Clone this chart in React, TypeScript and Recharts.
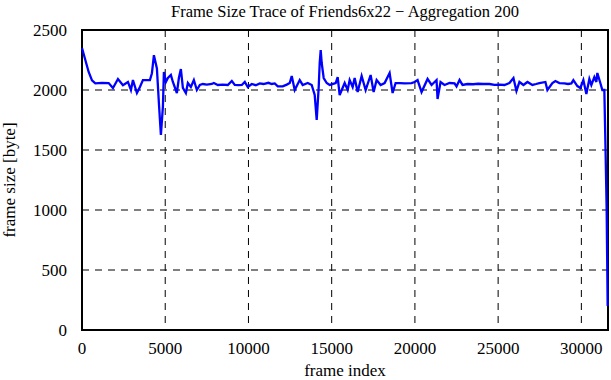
import { LineChart, Line, XAxis, YAxis, CartesianGrid, ReferenceArea, Label } from 'recharts';

document.body.style.margin = '0';

// frame index (aggregated by 200 frames)
const frames = [
  0, 200, 400, 600, 800, 1200, 1600, 1860, 2160, 2460, 2760, 2940, 3060, 3300, 3480, 3660, 4080, 4200,
  4320, 4500, 4620, 4740, 4860, 4920, 5040, 5160, 5340, 5460, 5700, 5820, 5940, 6060, 6240, 6360,
  6540, 6720, 6900, 7080, 7260, 7500, 7800, 7920, 8160, 8460, 8760, 9000, 9180, 9400, 9600, 9780,
  9960, 10200, 10440, 10680, 10900, 11200, 11400, 11580, 11760, 12060, 12300, 12480, 12600, 12780,
  13080, 13260, 13560, 13800, 13980, 14100, 14220, 14280, 14340, 14400, 14520, 14700, 14880, 15240,
  15360, 15480, 15780, 15960, 16080, 16260, 16380, 16560, 16800, 17040, 17340, 17520, 17700, 17940,
  18180, 18480, 18660, 18840, 19080, 19400, 19800, 19980, 20160, 20400, 20760, 21000, 21300, 21360,
  21540, 21780, 22080, 22380, 22500, 22680, 22860, 23160, 23500, 23800, 24100, 24480, 24780, 25080,
  25380, 25680, 25920, 26100, 26280, 26520, 26760, 27060, 27280, 27480, 27840, 27960, 28260, 28440,
  28680, 28980, 29200, 29400, 29520, 29760, 29940, 30120, 30300, 30480, 30600, 30780, 30900, 30960,
  31140, 31260, 31380, 31460, 31520, 31580,
];

const frameSize = [
  2350, 2250, 2150, 2080, 2055, 2060, 2058, 2017, 2092, 2040, 2067, 2000, 2083, 1975, 2025, 2083, 2083, 2140,
  2290, 2180, 1890, 1625, 1860, 2150, 2067, 2100, 2125, 2067, 1975, 2100, 2175, 2017, 1975, 2058,
  2025, 2083, 2000, 2042, 2050, 2045, 2050, 2058, 2042, 2045, 2042, 2075, 2042, 2040, 2042, 2067,
  2025, 2050, 2040, 2055, 2050, 2060, 2050, 2055, 2030, 2030, 2045, 2058, 2117, 2000,
  2083, 2042, 2058, 2042, 1958, 1750, 2025, 2225, 2333, 2225, 2100, 2058, 2042, 2058,
  2108, 1958, 2058, 2000, 2083, 2025, 2100, 1983, 2117, 2000, 2125, 1983, 2083, 2042,
  2058, 2142, 1975, 2058, 2058, 2055, 2058, 2067, 2083, 1983, 2092, 2042, 2083, 1925,
  2067, 2042, 2058, 2055, 2030, 2083, 2042, 2050, 2048, 2052, 2050, 2050, 2042, 2045,
  2042, 2058, 2100, 1992, 2067, 2042, 2067, 2042, 2050, 2058, 2067, 2000, 2058, 2075,
  2058, 2055, 2050, 2055, 2083, 2033, 2017, 2083, 1967, 2092, 2042, 2108, 2067, 2142,
  2058, 2000, 2000, 1450, 1000, 200,
];

const xTicks = [0, 5000, 10000, 15000, 20000, 25000, 30000];
const yTicks = [0, 500, 1000, 1500, 2000, 2500];

const data = frames.map((f, i) => ({ frame: f, size: frameSize[i] }));

const FONT = '"Liberation Serif", "DejaVu Serif", serif';
const tickStyle = { fontFamily: FONT, fontSize: 17, fill: '#000' };
const labelStyle = { fontFamily: FONT, fontSize: 17, fill: '#000' };

export default function App() {
  return (
    <div style={{ width: 611, height: 380, position: 'relative', background: '#fff' }}>
      <div
        style={{
          position: 'absolute',
          top: 0,
          left: 82,
          width: 526,
          textAlign: 'center',
          fontFamily: FONT,
          fontSize: 16.5,
          lineHeight: '24px',
        }}
      >
        Frame Size Trace of Friends6x22 − Aggregation 200
      </div>
      <LineChart width={611} height={380} data={data} margin={{ top: 30, right: 3, bottom: 0, left: 0 }}>
        <CartesianGrid stroke="#000" strokeDasharray="7 6" strokeWidth={1} />
        <XAxis
          dataKey="frame"
          type="number"
          domain={[0, 31600]}
          ticks={xTicks}
          height={50}
          tick={tickStyle}
          tickLine={false}
          axisLine={false}
          tickMargin={6}
          interval={0}
        >
          <Label value="frame index" position="insideBottom" offset={4} style={labelStyle} />
        </XAxis>
        <YAxis
          type="number"
          domain={[0, 2500]}
          ticks={yTicks}
          width={82}
          tick={tickStyle}
          tickLine={false}
          axisLine={false}
          tickMargin={9}
          interval={0}
        >
          <Label
            value="frame size [byte]"
            angle={-90}
            position="insideLeft"
            offset={9}
            style={{ ...labelStyle, textAnchor: 'middle' }}
          />
        </YAxis>
        <Line
          type="linear"
          dataKey="size"
          stroke="#0000ff"
          strokeWidth={2.3}
          dot={false}
          isAnimationActive={false}
        />
        <ReferenceArea x1={0} x2={31600} y1={0} y2={2500} fill="none" stroke="#000" strokeWidth={2} ifOverflow="visible" />
      </LineChart>
    </div>
  );
}
